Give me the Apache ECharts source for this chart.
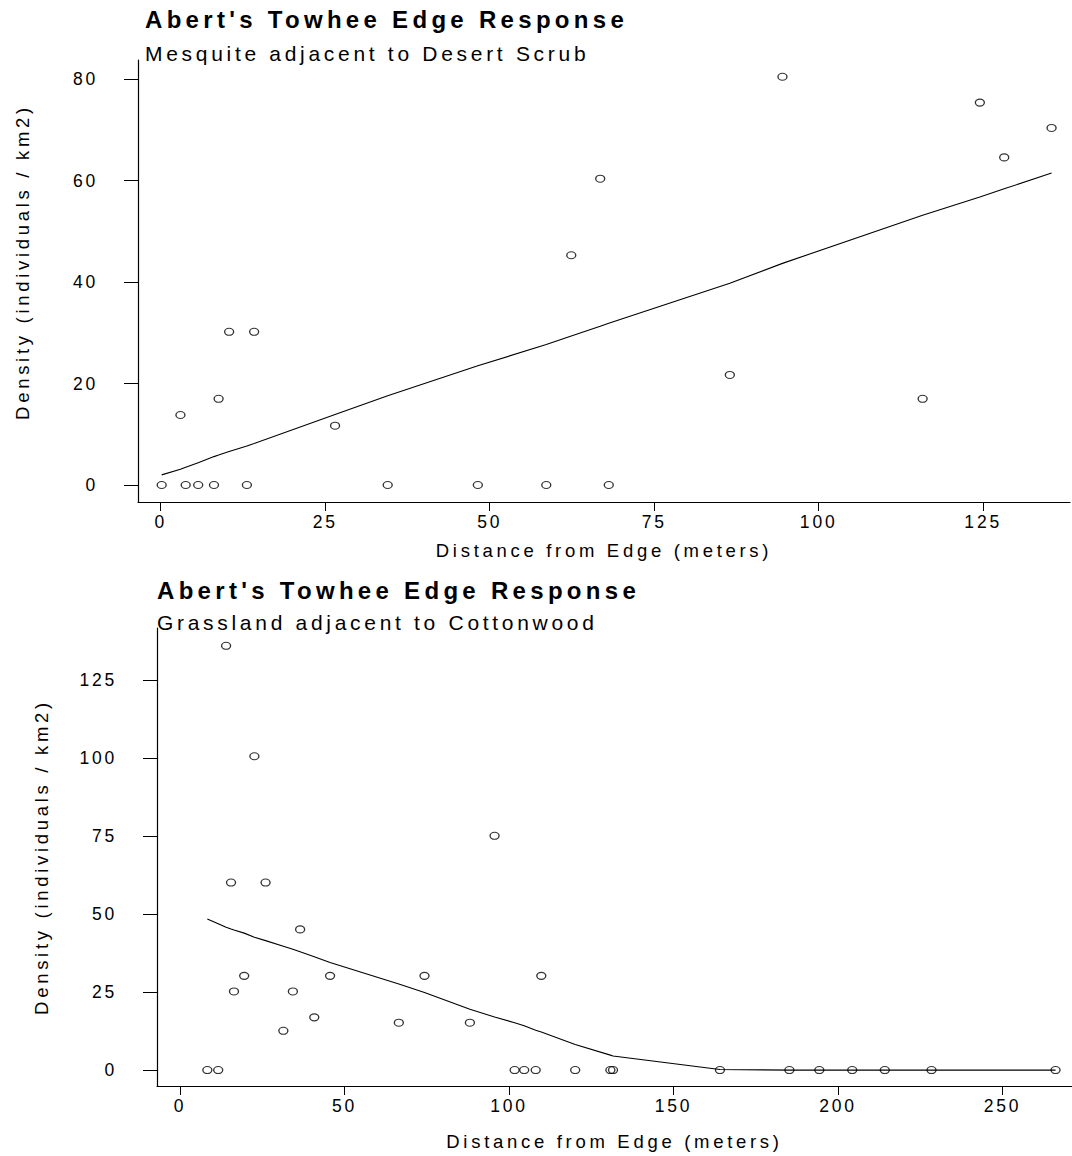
<!DOCTYPE html>
<html>
<head>
<meta charset="utf-8">
<title>Abert's Towhee Edge Response</title>
<script src="https://cdn.jsdelivr.net/npm/echarts@6/dist/echarts.min.js"></script>
<style>
    html, body { margin: 0; padding: 0; background: #fff; }
    #chart { width: 1072px; height: 1156px; }
</style>
</head>
<body>
<div id="chart"></div>
<script>
// 上图: Mesquite adjacent to Desert Scrub
const topDist    = [0.15, 3.0, 3.8, 5.7, 8.1, 8.8, 10.4, 13.1, 14.2, 26.5, 34.5, 48.2, 58.6, 62.4, 66.8, 68.1, 86.5, 94.5, 115.8, 124.5, 128.2, 135.4];
const topDensity = [0, 13.8, 0, 0, 0, 17.0, 30.2, 0, 30.2, 11.7, 0, 0, 0, 45.3, 60.4, 0, 21.7, 80.5, 17.0, 75.4, 64.6, 70.4];
const topSmooth  = [2.0, 3.1, 3.5, 4.4, 5.6, 5.9, 6.6, 7.7, 8.2, 13.9, 17.6, 23.5, 27.7, 29.4, 31.3, 31.9, 39.8, 43.7, 53.2, 56.8, 58.4, 61.5];
const topXTicks  = [0, 25, 50, 75, 100, 125];
const topYTicks  = [0, 20, 40, 60, 80];

// 下图: Grassland adjacent to Cottonwood
const botDist    = [8.3, 11.6, 14.0, 15.5, 16.4, 19.5, 22.6, 26.0, 31.4, 34.3, 36.5, 40.8, 45.6, 66.5, 74.3, 88.1, 95.6, 101.7, 104.6, 108.1, 109.8, 120.1, 130.8, 131.6, 164.1, 185.2, 194.3, 204.3, 214.2, 228.4, 266.1];
const botDensity = [0, 0, 136, 60.1, 25.2, 30.2, 100.6, 60.1, 12.6, 25.2, 45.1, 16.9, 30.2, 15.2, 30.2, 15.2, 75.1, 0, 0, 0, 30.2, 0, 0, 0, 0, 0, 0, 0, 0, 0, 0];
const botSmooth  = [48.4, 46.9, 45.8, 45.2, 44.9, 43.9, 42.6, 41.5, 39.7, 38.7, 37.9, 36.3, 34.5, 27.6, 24.9, 19.5, 17.0, 15.2, 14.2, 12.8, 12.2, 8.2, 4.8, 4.5, 0.2, 0, 0, 0, 0, 0, 0];
const botXTicks  = [0, 50, 100, 150, 200, 250];
const botYTicks  = [0, 25, 50, 75, 100, 125];

const titleText = "Abert's Towhee Edge Response";
const xName = 'Distance from Edge (meters)';
const yName = 'Density (individuals / km2)';

const FONT = "'Liberation Sans', Arial, sans-serif";
const ellipse = 'path://M0,4a5,4 0 1,0 10,0a5,4 0 1,0 -10,0z';

function pairs(xs, ys) {
    return xs.map((x, i) => [x, ys[i]]);
}

function makeXAxis(grid, min, max, ticks, gap) {
    return {
        gridIndex: grid, type: 'value', min: min, max: max,
        axisLine: { show: true, onZero: false, lineStyle: { color: '#000', width: 1.2 } },
        axisTick: { show: true, length: 9, customValues: ticks, lineStyle: { color: '#000', width: 1 } },
        axisLabel: { customValues: ticks, margin: 11, fontSize: 17.5, color: '#000', fontFamily: FONT },
        splitLine: { show: false },
        name: xName, nameLocation: 'middle', nameGap: gap,
        nameTextStyle: { fontSize: 18.5, color: '#000', fontFamily: FONT }
    };
}

function makeYAxis(grid, min, max, ticks, shift) {
    return {
        gridIndex: grid, type: 'value', min: min, max: max,
        axisLine: { show: true, onZero: false, lineStyle: { color: '#000', width: 1.2 } },
        axisTick: { show: true, length: 14, customValues: ticks, lineStyle: { color: '#000', width: 1 } },
        axisLabel: { customValues: ticks, margin: 40, fontSize: 17.5, color: '#000', fontFamily: FONT },
        splitLine: { show: false },
        name: yName, nameLocation: 'middle', nameGap: 106, nameRotate: 90,
        nameTextStyle: { fontSize: 18.5, color: '#000', fontFamily: FONT, padding: [0, 0, 0, shift] }
    };
}

function scatter(idx, xs, ys) {
    return {
        type: 'scatter', xAxisIndex: idx, yAxisIndex: idx,
        symbol: ellipse, symbolSize: [9, 7],
        itemStyle: { color: 'rgba(0,0,0,0)', borderColor: '#000', borderWidth: 1.2 },
        data: pairs(xs, ys), z: 3
    };
}

function smooth(idx, xs, ys) {
    return {
        type: 'line', xAxisIndex: idx, yAxisIndex: idx,
        showSymbol: false, symbol: 'none',
        lineStyle: { color: '#000', width: 1.1 },
        data: pairs(xs, ys), z: 2
    };
}

function heading(text, left, top, size, weight) {
    return {
        text: text, left: left, top: top, padding: 0,
        textStyle: { fontSize: size, fontWeight: weight, color: '#000', fontFamily: FONT }
    };
}

const chartDom = document.getElementById('chart');
const myChart = echarts.init(chartDom, null, { renderer: 'svg' });

const option = {
    animation: false,
    backgroundColor: '#fff',
    title: [
        heading(titleText, 145, 7, 24, 'bold'),
        heading('Mesquite adjacent to Desert Scrub', 145, 43, 21, 'normal'),
        heading(titleText, 157, 578, 24, 'bold'),
        heading('Grassland adjacent to Cottonwood', 157, 612, 21, 'normal')
    ],
    grid: [
        { left: 138, top: 60, width: 932, height: 442 },
        { left: 157, top: 628, width: 915, height: 458 }
    ],
    xAxis: [
        makeXAxis(0, -3.45, 138.2, topXTicks, 39),
        makeXAxis(1, -7.0, 271.1, botXTicks, 46)
    ],
    yAxis: [
        makeYAxis(0, -3.35, 83.8, topYTicks, 38),
        makeYAxis(1, -5.1, 141.7, botYTicks, 0)
    ],
    series: [
        smooth(0, topDist, topSmooth),
        scatter(0, topDist, topDensity),
        smooth(1, botDist, botSmooth),
        scatter(1, botDist, botDensity)
    ]
};

myChart.setOption(option);

// 原图的文字字距较宽
function spaceText() {
    chartDom.querySelectorAll('text').forEach(t => {
        const s = t.textContent;
        let sp = '2.8px';
        if (s === titleText) sp = '4.3px';
        else if (s.indexOf('adjacent') >= 0) sp = '3.7px';
        else if (s === xName || s === yName) sp = '3.7px';
        t.style.letterSpacing = sp;
    });
}
spaceText();
</script>
</body>
</html>
